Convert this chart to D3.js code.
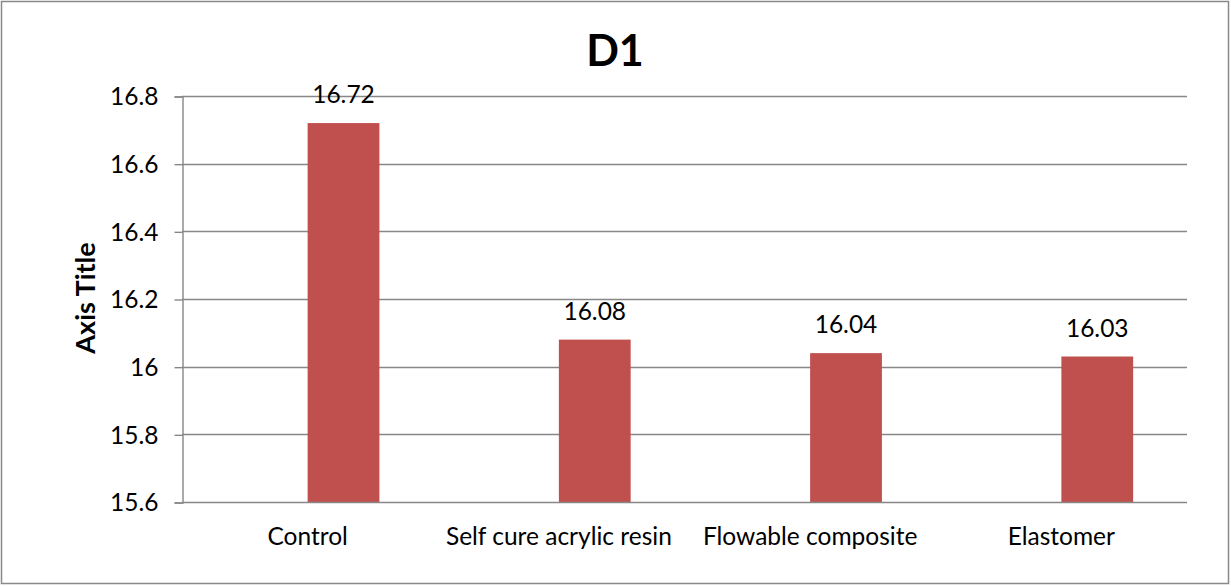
<!DOCTYPE html>
<html>
<head>
<meta charset="utf-8">
<script src="https://cdn.jsdelivr.net/npm/d3@7"></script>
<style>
  html, body { margin: 0; padding: 0; background: #fff; }
  svg { display: block; font-family: Lato, "Open Sans", sans-serif; }
</style>
</head>
<body>
<svg id="chart" width="1231" height="586"></svg>
<script>
// Chart data
const categories = ["Control", "Self cure acrylic resin", "Flowable composite", "Elastomer"];
const values = [16.72, 16.08, 16.04, 16.03];
const yTicks = [15.6, 15.8, 16, 16.2, 16.4, 16.6, 16.8];
const chartTitle = "D1";
const yAxisTitle = "Axis Title";

const svg = d3.select("#chart");
const W = 1231, H = 586;
const plot = { left: 182, right: 1187, top: 96, bottom: 502 };
const barColor = "#C0504D";
const gridColor = "#878787";
const labelSize = 24.5;

// Outer chart frame
svg.append("rect")
  .attr("x", 1.5).attr("y", 1.5)
  .attr("width", W - 4).attr("height", H - 4)
  .attr("fill", "#fff")
  .attr("stroke", "#898989")
  .attr("stroke-width", 1.5);

const y = d3.scaleLinear().domain([15.6, 16.8]).range([plot.bottom, plot.top]);
const x = d3.scaleBand().domain(categories).range([plot.left, plot.right]).padding(0);

// Each category holds a two-slot cluster (150% gap); the series sits in the second slot
const gapWidth = 1.5;
const barW = x.bandwidth() / (2 + gapWidth);

// Horizontal gridlines
svg.append("g")
  .selectAll("line")
  .data(yTicks.filter(t => t !== 15.6))
  .join("line")
  .attr("x1", plot.left).attr("x2", plot.right)
  .attr("y1", d => Math.round(y(d)) + 0.5)
  .attr("y2", d => Math.round(y(d)) + 0.5)
  .attr("stroke", gridColor)
  .attr("stroke-width", 1.4);

// Y axis
const yAxis = d3.axisLeft(y)
  .tickValues(yTicks)
  .tickFormat(d => String(+d.toFixed(1)))
  .tickSize(8)
  .tickPadding(16);

const yG = svg.append("g")
  .attr("transform", `translate(${plot.left + 0.5},0.5)`)
  .call(yAxis);
yG.select(".domain").attr("stroke", gridColor).attr("stroke-width", 1.4);
yG.selectAll(".tick line").attr("stroke", gridColor).attr("stroke-width", 1.4);
yG.selectAll(".tick text")
  .attr("fill", "#000")
  .attr("font-size", labelSize)
  .attr("font-family", "Lato, sans-serif")
  .attr("dy", "0.34em");

// Bars
svg.append("g")
  .selectAll("rect")
  .data(categories.map((c, i) => ({ c, v: values[i] })))
  .join("rect")
  .attr("x", d => x(d.c) + x.bandwidth() / 2)
  .attr("width", barW)
  .attr("y", d => y(d.v))
  .attr("height", d => y(15.6) - y(d.v))
  .attr("fill", barColor);

// X axis baseline
svg.append("line")
  .attr("x1", plot.left).attr("x2", plot.right)
  .attr("y1", plot.bottom + 0.5).attr("y2", plot.bottom + 0.5)
  .attr("stroke", gridColor)
  .attr("stroke-width", 1.4);

// Category labels
svg.append("g")
  .selectAll("text")
  .data(categories)
  .join("text")
  .attr("x", d => x(d) + x.bandwidth() / 2)
  .attr("y", 545)
  .attr("text-anchor", "middle")
  .attr("font-size", labelSize)
  .attr("fill", "#000")
  .text(d => d);

// Data labels
svg.append("g")
  .selectAll("text")
  .data(categories.map((c, i) => ({ c, v: values[i] })))
  .join("text")
  .attr("x", d => x(d.c) + x.bandwidth() / 2 + barW / 2)
  .attr("y", d => y(d.v) - 20)
  .attr("text-anchor", "middle")
  .attr("font-size", labelSize)
  .attr("fill", "#000")
  .text(d => d.v.toFixed(2));

// Chart title
svg.append("text")
  .attr("x", 615)
  .attr("y", 66)
  .attr("text-anchor", "middle")
  .attr("font-size", 43)
  .attr("font-weight", "bold")
  .attr("fill", "#000")
  .text(chartTitle);

// Y axis title
svg.append("text")
  .attr("transform", `translate(95,298) rotate(-90)`)
  .attr("text-anchor", "middle")
  .attr("font-size", 27)
  .attr("font-weight", "bold")
  .attr("fill", "#000")
  .text(yAxisTitle);
</script>
</body>
</html>
